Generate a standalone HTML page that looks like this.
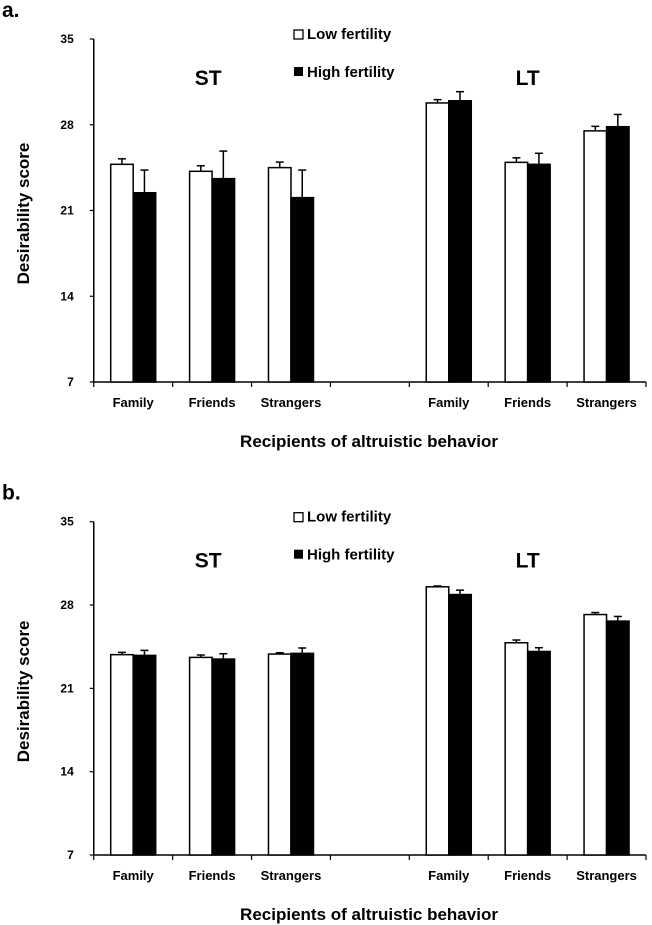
<!DOCTYPE html>
<html><head><meta charset="utf-8"><style>
body{margin:0;background:#fff;width:652px;height:925px;overflow:hidden}
svg{display:block;font-family:"Liberation Sans Narrow","Liberation Sans",sans-serif}
</style></head><body>
<svg id="fig" width="652" height="925" viewBox="0 0 652 925"></svg>
<script>
const categories = ["Family","Friends","Strangers","","Family","Friends","Strangers"];
const groups = ["ST","LT"];
const yTicks = [7,14,21,28,35];
// panel a
const aLow = [24.77,24.2,24.5,null,29.78,24.93,27.5];
const aLowErr = [0.45,0.45,0.45,null,0.27,0.37,0.37];
const aHigh = [22.45,23.6,22.05,null,29.96,24.77,27.84];
const aHighErr = [1.85,2.25,2.25,null,0.74,0.9,1.0];
// panel b
const bLow = [23.83,23.6,23.88,null,29.53,24.83,27.2];
const bLowErr = [0.19,0.2,0.11,null,0.07,0.23,0.17];
const bHigh = [23.77,23.46,23.94,null,28.88,24.1,26.65];
const bHighErr = [0.42,0.45,0.45,null,0.37,0.31,0.39];

const NS="http://www.w3.org/2000/svg";
const svg=document.getElementById('fig');
function mk(tag,attrs,parent,text){const e=document.createElementNS(NS,tag);for(const k in attrs)e.setAttribute(k,attrs[k]);if(text!==undefined)e.textContent=text;(parent||svg).appendChild(e);return e;}

function panel(id,letter,top,bottom,low,lowErr,high,highErr){
  const g=mk('g',{});
  
  
  const x0=93.75,x1=646,slot=(x1-x0)/categories.length,bw=22.5;
  const y=v=>bottom-(v-7)/(35-7)*(bottom-top);
  const lt=mk('text',{x:2,y:top-22,'font-size':21,'font-weight':'bold',fill:'#000'},g,letter);
  
  
  const ya=mk('line',{x1:x0,y1:top,x2:x0,y2:bottom,stroke:'#000','stroke-width':1.5},g);
  
  
  yTicks.forEach(t=>{
    mk('line',{x1:x0-4,y1:y(t),x2:x0,y2:y(t),stroke:'#000','stroke-width':1.2},g);
    const tl=mk('text',{x:x0-20,y:y(t)+4,'font-size':12,'font-weight':'bold','text-anchor':'end'},g,t);
    
    
  });
  const xa=mk('line',{x1:x0,y1:bottom,x2:x1,y2:bottom,stroke:'#000','stroke-width':1.5},g);
  
  
  for(let i=0;i<=categories.length;i++){
    mk('line',{x1:x0+i*slot,y1:bottom,x2:x0+i*slot,y2:bottom+5,stroke:'#000','stroke-width':1.2},g);
  }
  categories.forEach((c,i)=>{
    const cx=x0+(i+0.5)*slot;
    if(c){
      const cl=mk('text',{x:cx,y:bottom+25,'font-size':13,'font-weight':'bold','text-anchor':'middle'},g,c);
      
      
    }
    if(low[i]!=null){
      const xl=cx-bw,xh=cx;
      [[xl,low[i],lowErr[i]],[xh,high[i],highErr[i]]].forEach(([bx,v,e])=>{
        const mx=bx+bw/2;
        mk('line',{x1:mx,y1:y(v),x2:mx,y2:y(v+e),stroke:'#000','stroke-width':1.5},g);
        mk('line',{x1:mx-4,y1:y(v+e),x2:mx+4,y2:y(v+e),stroke:'#000','stroke-width':1.5},g);
      });
      const r1=mk('rect',{x:xl,y:y(low[i]),width:bw,height:bottom-y(low[i]),fill:'#fff',stroke:'#000','stroke-width':1.5},g);
      
      
      const r2=mk('rect',{x:xh,y:y(high[i]),width:bw,height:bottom-y(high[i]),fill:'#000',stroke:'#000','stroke-width':1.5},g);
      
      
    }
  });
  const gx=[x0+1.45*slot,x0+5.5*slot];
  groups.forEach((s,i)=>{
    const t=mk('text',{x:gx[i],y:top+46,'font-size':21,'font-weight':'bold','text-anchor':'middle'},g,s);
    
    
  });
  const l1=mk('rect',{x:294,y:top-9,width:9,height:9,fill:'#fff',stroke:'#000','stroke-width':1.3},g);
  
  
  const lt1=mk('text',{x:307,y:top,'font-size':15,'font-weight':'bold'},g,'Low fertility');
  
  
  const l2=mk('rect',{x:294,y:top+28,width:9,height:9,fill:'#000'},g);
  
  
  const lt2=mk('text',{x:307,y:top+38,'font-size':15,'font-weight':'bold'},g,'High fertility');
  
  
  const cy=(top+bottom)/2+3;
  const yt=mk('text',{x:0,y:0,'font-size':17,'font-weight':'bold','text-anchor':'middle',transform:`translate(29,${cy}) rotate(-90)`},g,'Desirability score');
  
  
  const xt=mk('text',{x:369,y:bottom+65,'font-size':17,'font-weight':'bold','text-anchor':'middle'},g,'Recipients of altruistic behavior');
  
  
}
panel('a','a.',39,382,aLow,aLowErr,aHigh,aHighErr);
panel('b','b.',521.7,855,bLow,bLowErr,bHigh,bHighErr);
</script>
</body></html>
